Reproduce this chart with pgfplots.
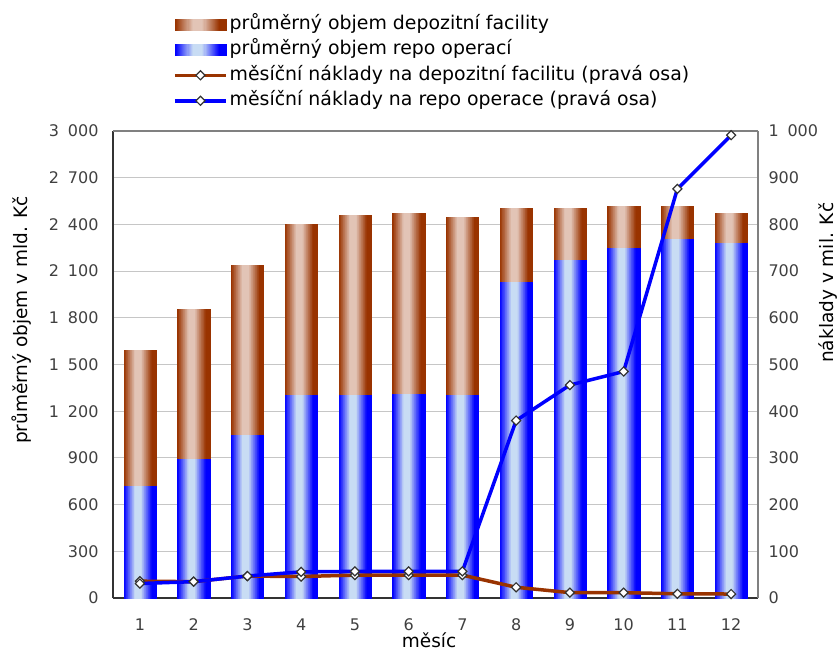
\documentclass[border=0pt]{standalone}
\usepackage{fontspec}
\setmainfont{DejaVu Sans}
\usepackage{pgfplots}
\usepackage{pgfplotstable}
\pgfplotsset{compat=1.18}
\definecolor{brn}{HTML}{993300}
\definecolor{brnl}{HTML}{E2C4B6}
\definecolor{blu}{HTML}{0000FF}
\definecolor{blul}{HTML}{C8DCF4}
\definecolor{tickgray}{HTML}{404040}
% gradient bar made of thin overlapping strips: #1 dark, #2 light, #3 left x (pt), #4 width (pt), #5 y0 (pt), #6 y1 (pt)
\newcommand\gradbar[6]{%
  \pgfmathsetmacro\gbya{#5}\pgfmathsetmacro\gbyb{#6}%
  \foreach \k in {0,...,47}{%
    \pgfmathsetmacro\gbu{(\k+0.5)/48}%
    \pgfmathtruncatemacro\gbp{100*min(1,max(0,(abs(\gbu-0.45)-0.09)/0.34))}%
    \pgfmathsetmacro\gbxa{#3+\k*#4/48}%
    \pgfmathsetmacro\gbxb{#3+(\k+1)*#4/48+(\k<47 ? 0.6 : 0)}%
    \fill[#1!\gbp!#2] (\gbxa pt,\gbya pt) rectangle (\gbxb pt,\gbyb pt);%
  }%
}
\pgfplotstableread{
m repo dep
1 726 867
2 901 955
3 1055 1084
4 1312 1090
5 1312 1148
6 1317 1156
7 1312 1135
8 2036 469
9 2177 328
10 2254 264
11 2314 204
12 2286 187
}\bars
\pgfplotsset{
 barlegbrn/.style={legend image code/.code={\gradbar{brn}{brnl}{0}{51}{-5.5}{5.5}}},
 barlegblu/.style={legend image code/.code={\gradbar{blu}{blul}{0}{51}{-5.5}{5.5}}},
 lineleg/.style={legend image code/.code={\draw[##1, mark repeat=2, mark phase=2] plot coordinates {(0pt,0pt) (25.5pt,0pt) (51pt,0pt)};}},
}
\begin{document}
\begin{tikzpicture}
\pgfplotsset{
 common/.style={
  scale only axis, width=645pt, height=467pt,
  at={(0pt,0pt)}, anchor=south west,
  xmin=0.5, xmax=12.5,
  xtick={1,...,12},
  tick label style={font=\fontsize{16}{19}\selectfont, text=tickgray},
  /pgf/number format/assume math mode=true,
  /pgf/number format/1000 sep={\hspace{0.55em}},
  major tick length=0pt,
 }
}
\begin{axis}[common,
  ymin=0, ymax=3000, ytick={0,300,...,3000},
  ymajorgrids, grid style={draw=gray!45, line width=1pt},
  axis x line*=bottom, axis y line*=left,
  axis line style={line width=1.5pt, draw=black!80},
  yticklabel style={xshift=-11pt},
  xticklabel style={yshift=-17pt},
  xlabel={měsíc}, ylabel={průměrný objem v mld. Kč},
  every axis x label/.style={at={(axis description cs:0.49,0)}, yshift=-42pt, anchor=center, inner sep=0pt, font=\fontsize{18.5}{22}\selectfont},
  every axis y label/.style={at={(axis description cs:0,0.595)}, xshift=-91pt, rotate=90, anchor=center, font=\fontsize{18.5}{22}\selectfont},
]
\addplot[scatter, only marks, mark=text, text mark={},
  visualization depends on={\thisrow{repo} \as \ry},
  scatter/@pre marker code/.code={\gradbar{blu}{blul}{-16.125}{32.25}{0}{-\ry*0.155667}},
  scatter/@post marker code/.code={}]
  table[x=m, y=repo] {\bars};
\addplot[scatter, only marks, mark=text, text mark={},
  visualization depends on={\thisrow{dep} \as \ry},
  scatter/@pre marker code/.code={\gradbar{brn}{brnl}{-16.125}{32.25}{0}{-\ry*0.155667}},
  scatter/@post marker code/.code={}]
  table[x=m, y expr=\thisrow{repo}+\thisrow{dep}] {\bars};
\end{axis}
\begin{axis}[common,
  ymin=0, ymax=1000, ytick={0,100,...,1000},
  axis y line*=right, axis x line*=top, xticklabels={},
  axis line style={line width=1.5pt, draw=gray},
  yticklabel style={xshift=7pt},
  ylabel={náklady v mil. Kč},
  every axis y label/.style={at={(axis description cs:1,0.675)}, xshift=70pt, rotate=90, anchor=center, font=\fontsize{18.5}{22}\selectfont},
  clip=false,
  legend style={draw=none, fill=none, at={(0.093,1.252)}, anchor=north west,
    font=\fontsize{18.9}{22}\selectfont, inner sep=0pt, row sep=4pt,
    nodes={inner sep=2pt, text height=13.5pt, text depth=4pt}},
  legend cell align=left,
]
\addlegendimage{barlegbrn}
\addlegendimage{barlegblu}
\addplot[brn, line width=3.5pt, mark=square*, mark size=3.2pt,
  mark options={rotate=45, fill=white, draw=black!80, line width=1.2pt}, lineleg]
 coordinates {(1,36) (2,35) (3,47) (4,46) (5,49) (6,49) (7,49) (8,23) (9,11.5) (10,11.5) (11,9) (12,8.5)};
\addplot[blu, line width=3.5pt, mark=square*, mark size=3.2pt,
  mark options={rotate=45, fill=white, draw=black!80, line width=1.2pt}, lineleg]
 coordinates {(1,31) (2,35) (3,47) (4,56) (5,57) (6,57) (7,57) (8,380) (9,456) (10,485) (11,876) (12,991)};
\legend{průměrný objem depozitní facility, průměrný objem repo operací, měsíční náklady na depozitní facilitu (pravá osa), měsíční náklady na repo operace (pravá osa)}
\end{axis}
\pgfresetboundingbox
\useasboundingbox (-113pt,-53pt) rectangle (725pt,598pt);
\end{tikzpicture}
\end{document}
